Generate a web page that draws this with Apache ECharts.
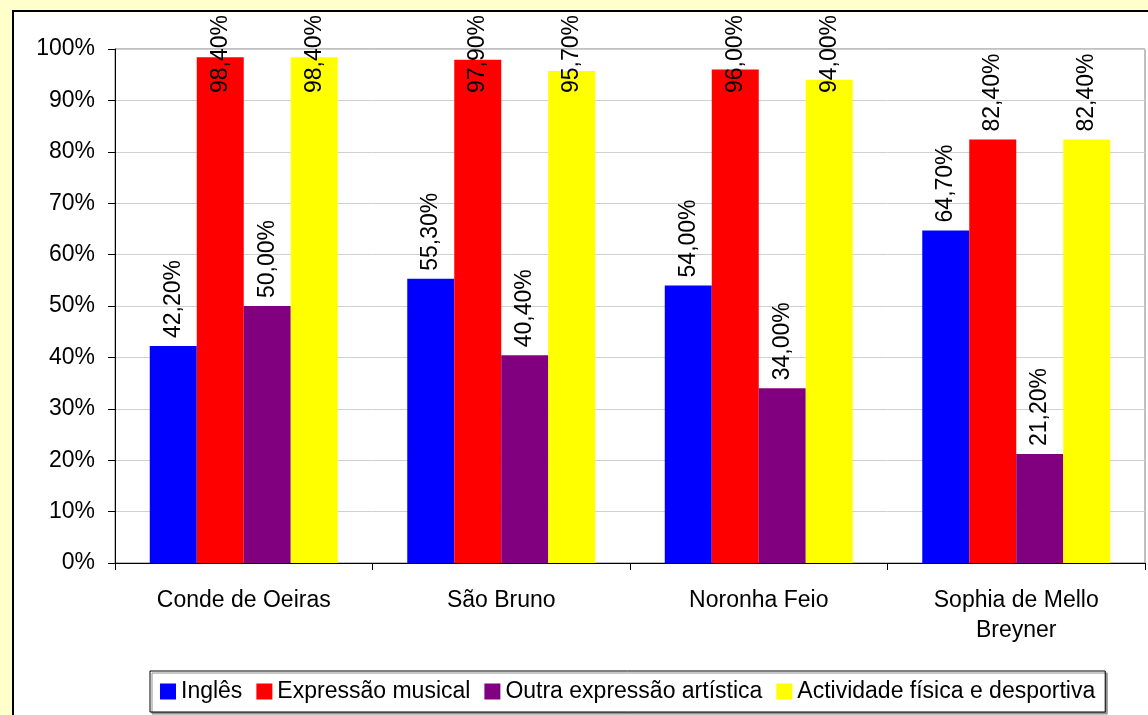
<!DOCTYPE html>
<html>
<head>
<meta charset="utf-8">
<script src="https://cdn.jsdelivr.net/npm/echarts@6/dist/echarts.min.js"></script>
<style>
  html, body { margin: 0; padding: 0; background: #FFFFCC; overflow: hidden; }
  #chart {
    position: absolute; left: 12px; top: 10px;
    width: 1150px; height: 720px;
    border-left: 2px solid #000; border-top: 2px solid #000;
    background: #fff;
  }
</style>
</head>
<body>
<div id="chart"></div>
<script>
// escolas
var escolas = ['Conde de Oeiras', 'São Bruno', 'Noronha Feio', 'Sophia de Mello\nBreyner']
var ingles = [42.2, 55.3, 54.0, 64.7]
var musical = [98.4, 97.9, 96.0, 82.4]
var outraArtistica = [50.0, 40.4, 34.0, 21.2]
var actividadeFisica = [98.4, 95.7, 94.0, 82.4]
var yTicks = [0, 10, 20, 30, 40, 50, 60, 70, 80, 90, 100]

var font = "'Liberation Sans', Arial, sans-serif"
var chart = echarts.init(document.getElementById('chart'))

function serie(name, data, color) {
    return {
        name: name,
        type: 'bar',
        data: data,
        barGap: '0%',
        barCategoryGap: '27%',
        itemStyle: { color: color },
        label: {
            show: true,
            position: 'top',
            distance: 8,
            rotate: 90,
            align: 'left',
            verticalAlign: 'middle',
            color: '#000',
            fontFamily: font,
            fontSize: 23,
            formatter: function (p) {
                return p.value.toFixed(2).replace('.', ',') + '%'
            }
        }
    }
}

var option = {
    animation: false,
    textStyle: { fontFamily: font },
    grid: {
        left: 101, top: 37, width: 1030, height: 514,
        show: true,
        borderColor: '#808080',
        borderWidth: 1
    },
    legend: {
        left: 136,
        top: 659,
        itemWidth: 16,
        itemHeight: 16,
        itemGap: 14,
        icon: 'rect',
        padding: [9, 10, 9, 10],
        borderColor: '#000',
        borderWidth: 1,
        backgroundColor: '#fff',
        shadowColor: '#909090',
        shadowOffsetX: 2,
        shadowOffsetY: 2,
        shadowBlur: 0,
        textStyle: { fontFamily: font, fontSize: 23, color: '#000', lineHeight: 23 }
    },
    labelLayout: function (params) {
        // Excel empurra os rótulos para dentro da área do gráfico
        if (params.labelRect.y < 3) {
            return { y: 3 + params.labelRect.height }
        }
    },
    xAxis: {
        type: 'category',
        data: escolas,
        axisLine: { lineStyle: { color: '#000', width: 1 } },
        axisTick: { show: true, length: 7, lineStyle: { color: '#000' } },
        axisLabel: {
            color: '#000',
            fontSize: 23,
            fontFamily: font,
            margin: 23,
            lineHeight: 30
        }
    },
    yAxis: {
        type: 'value',
        min: yTicks[0],
        max: yTicks[yTicks.length - 1],
        interval: 10,
        axisLine: { show: true, lineStyle: { color: '#000', width: 1 } },
        axisTick: { show: true, length: 7, lineStyle: { color: '#000' } },
        splitLine: { lineStyle: { color: '#d0d0d0' } },
        axisLabel: {
            color: '#000',
            fontSize: 23,
            fontFamily: font,
            margin: 20,
            formatter: '{value}%'
        }
    },
    series: [
        serie('Inglês', ingles, '#0000FF'),
        serie('Expressão musical', musical, '#FF0000'),
        serie('Outra expressão artística', outraArtistica, '#800080'),
        serie('Actividade física e desportiva', actividadeFisica, '#FFFF00')
    ]
}

chart.setOption(option)
</script>
</body>
</html>
